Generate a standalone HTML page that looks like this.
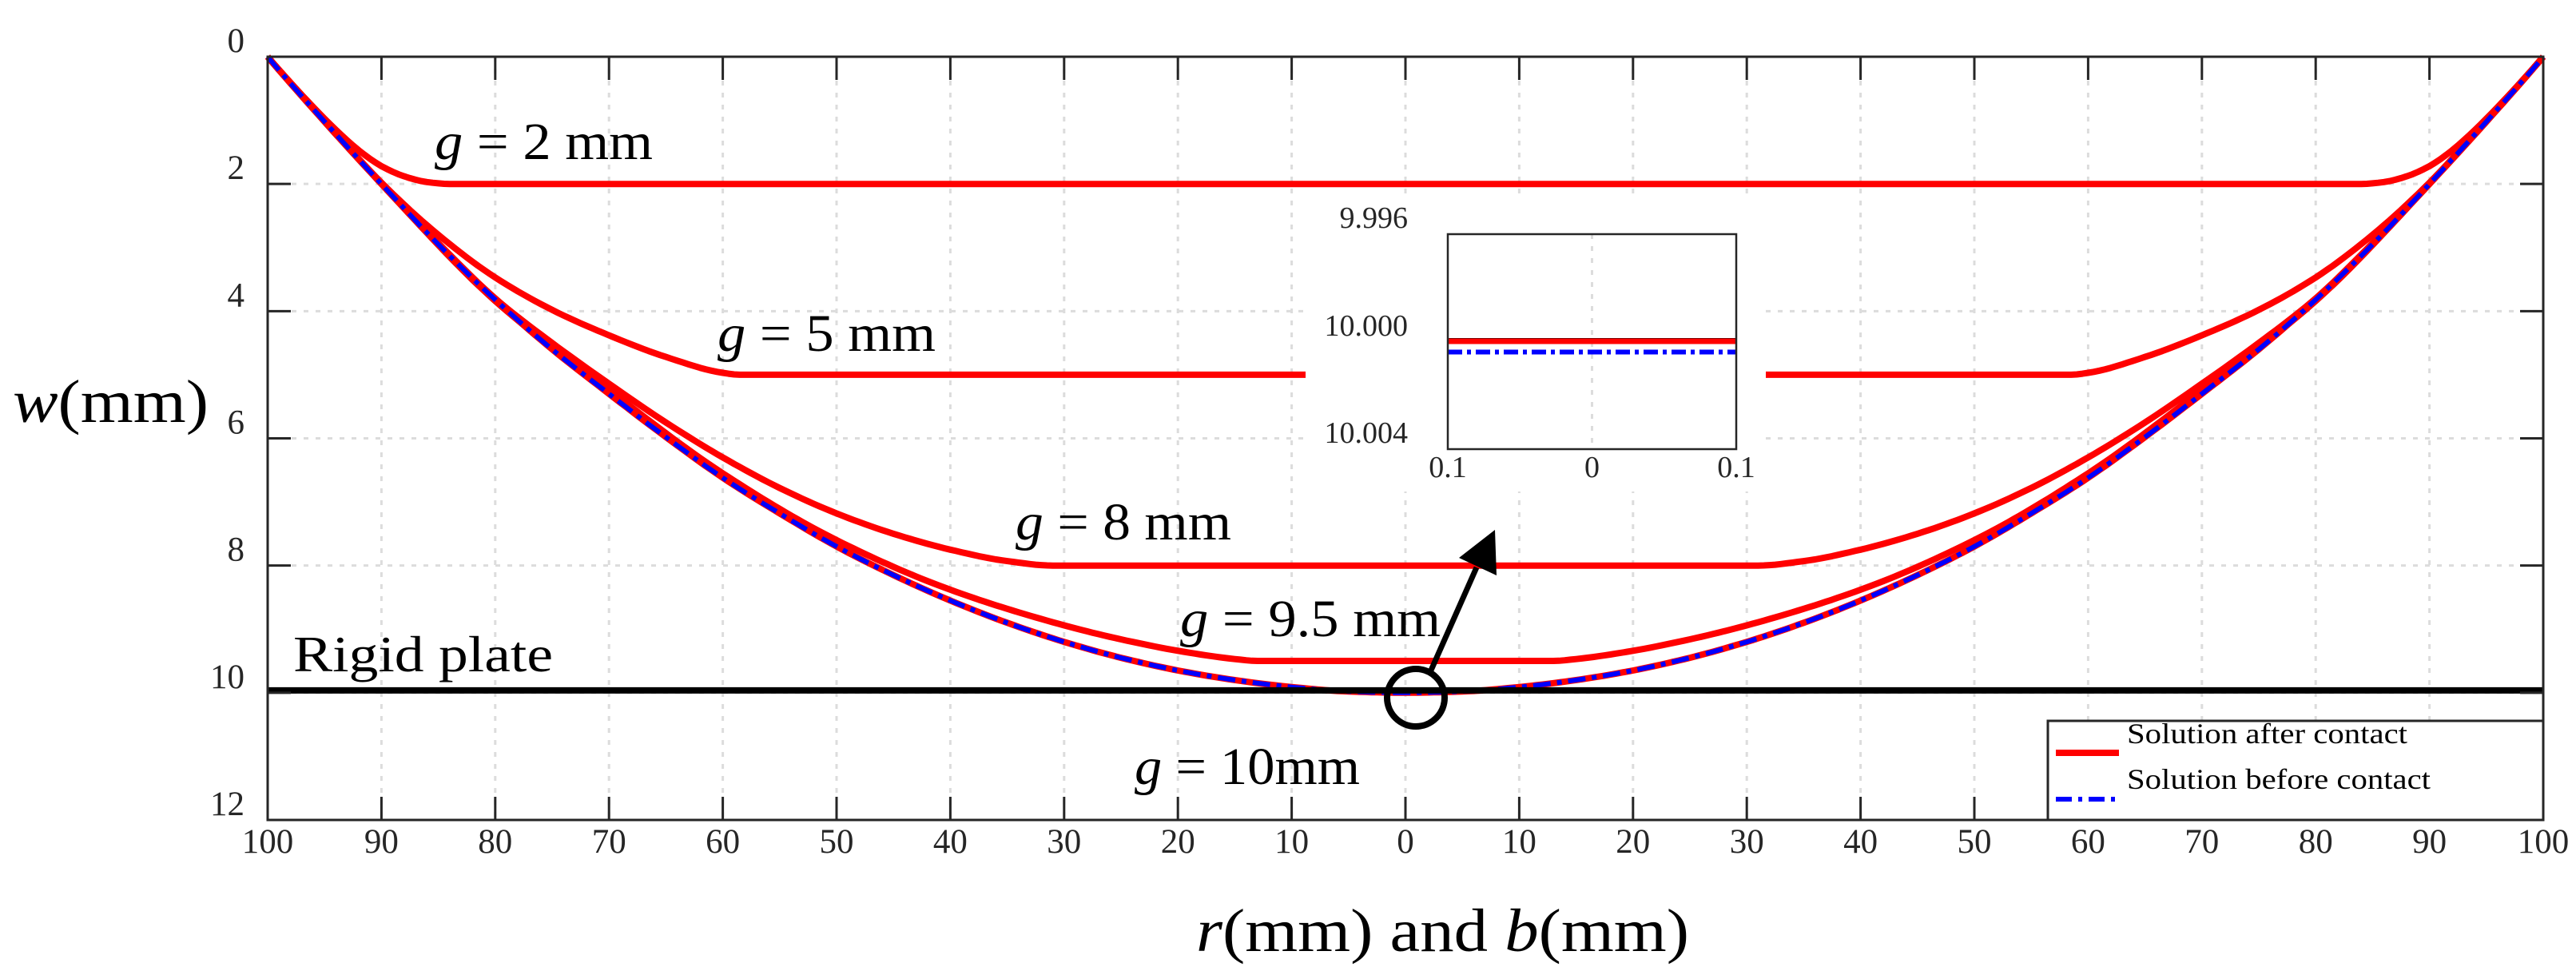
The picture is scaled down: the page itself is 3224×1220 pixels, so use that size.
<!DOCTYPE html>
<html><head><meta charset="utf-8">
<style>
html,body{margin:0;padding:0;background:#fff;}
svg{display:block;font-family:"Liberation Serif",serif;}
</style></head>
<body>
<svg id="chart" width="3224" height="1220" viewBox="0 0 3224 1220" xmlns="http://www.w3.org/2000/svg">
<rect x="0" y="0" width="3224" height="1220" fill="#fff"/>
<g id="grid"></g>
<g id="curves"></g>
<g id="axes"></g>
<g id="labels"></g>
<g id="inset"></g>
<g id="legend"></g>
</svg>
<script>
// ---- data ----
const xTicks = [-100,-90,-80,-70,-60,-50,-40,-30,-20,-10,0,10,20,30,40,50,60,70,80,90,100];
const xTickLabels = ["100","90","80","70","60","50","40","30","20","10","0","10","20","30","40","50","60","70","80","90","100"];
const yTicks = [0,2,4,6,8,10,12];
const yTickLabels = ["0","2","4","6","8","10","12"];
// half-profiles: radius (mm) from edge to contact radius, deflection w (mm)
const rBefore = [100,95,90,85,80,75,70,65,60,55,50,45,40,35,30,25,20,15,10,5,0];
const wBefore = [0,1.02,2.0,2.95,3.82,4.6,5.3,5.98,6.62,7.18,7.7,8.15,8.55,8.9,9.2,9.45,9.65,9.8,9.91,9.98,10.0];
const rG2 = [100,97,94,92,90,88,86,84];
const wG2 = [0,0.6,1.15,1.47,1.72,1.88,1.97,2.0];
const rG5 = [100,95,90,85,80,75,70,65,60,58.5];
const wG5 = [0,1.0,1.98,2.8,3.47,3.98,4.38,4.72,4.97,5.0];
const rG8 = [100,95,90,85,80,75,70,65,60,55,50,45,40,35,31];
const wG8 = [0,1.0,2.0,2.93,3.8,4.5,5.14,5.75,6.3,6.78,7.18,7.5,7.75,7.93,8.0];
const rG95 = [100,90,80,70,60,50,40,30,25,20,15,13];
const wG95 = [0,2.0,3.84,5.24,6.55,7.6,8.38,8.94,9.16,9.34,9.47,9.5];
const rG10 = [100,95,90,85,80,75,70,65,60,55,50,45,40,35,30,25,20,15,10,5,0];
const wG10 = [0,1.02,2.0,2.95,3.82,4.6,5.3,5.98,6.62,7.18,7.7,8.15,8.55,8.9,9.2,9.45,9.65,9.8,9.91,9.98,10.0];
const rigidPlate = [10];
const insetYLabels = ["9.996","10.000","10.004"];
const insetXLabels = ["0.1","0","0.1"];
const insetAfter = [10.0];
const insetBefore = [10.0004];

// ---- axes ----
const L=335,R=3183,T=71,B=1026;
const X = v => L + (v+100)/200*(R-L);
const Y = v => T + v/12*(B-T);
const NS="http://www.w3.org/2000/svg";
function mk(tag,attrs,parent){const e=document.createElementNS(NS,tag);for(const k in attrs)e.setAttribute(k,attrs[k]);parent.appendChild(e);return e;}
const grid=document.getElementById('grid'),curves=document.getElementById('curves'),axes=document.getElementById('axes'),labels=document.getElementById('labels'),inset=document.getElementById('inset'),legend=document.getElementById('legend');

xTicks.forEach((t,i)=>{
  const g=mk('line',{x1:X(t),x2:X(t),y1:T,y2:B,stroke:'#dcdcdc','stroke-width':3,'stroke-dasharray':'6 9'},grid);
  
  
  const a=mk('line',{x1:X(t),x2:X(t),y1:T,y2:T+29,stroke:'#262626','stroke-width':3},axes);
  
  
  const b=mk('line',{x1:X(t),x2:X(t),y1:B,y2:B-29,stroke:'#262626','stroke-width':3},axes);
  
  
  const tx=mk('text',{x:X(t),y:1067,'font-size':43,fill:'#262626','text-anchor':'middle'},axes);
  tx.textContent=xTickLabels[i];
  
  
});
yTicks.forEach((t,i)=>{
  const g=mk('line',{x1:L,x2:R,y1:Y(t),y2:Y(t),stroke:'#dcdcdc','stroke-width':3,'stroke-dasharray':'6 9'},grid);
  
  
  const a=mk('line',{x1:L,x2:L+29,y1:Y(t),y2:Y(t),stroke:'#262626','stroke-width':3},axes);
  
  
  const b=mk('line',{x1:R,x2:R-29,y1:Y(t),y2:Y(t),stroke:'#262626','stroke-width':3},axes);
  
  
  const tx=mk('text',{x:306,y:Y(t)-6,'font-size':43,fill:'#262626','text-anchor':'end'},axes);
  tx.textContent=yTickLabels[i];
  
  
});
const frame=mk('rect',{x:L,y:T,width:R-L,height:B-T,fill:'none',stroke:'#262626','stroke-width':3},axes);



// ---- curves (monotone cubic interpolation, zero slope at contact) ----
function pchip(xs,ys){
  const n=xs.length,h=[],d=[],m=new Array(n);
  for(let i=0;i<n-1;i++){h[i]=xs[i+1]-xs[i];d[i]=(ys[i+1]-ys[i])/h[i];}
  m[0]=d[0]*1.05;
  for(let i=1;i<n-1;i++){
    if(d[i-1]*d[i]<=0)m[i]=0;
    else{const w1=2*h[i]+h[i-1],w2=h[i]+2*h[i-1];m[i]=(w1+w2)/(w1/d[i-1]+w2/d[i]);}
  }
  m[n-1]=0;
  return x=>{
    let i=0;while(i<n-2&&x>xs[i+1])i++;
    const t=(x-xs[i])/h[i],t2=t*t,t3=t2*t;
    return (2*t3-3*t2+1)*ys[i]+(t3-2*t2+t)*h[i]*m[i]+(-2*t3+3*t2)*ys[i+1]+(t3-t2)*h[i]*m[i+1];
  };
}
function curvePath(rs,ws){
  const xs=rs.map(r=>-r);
  const f=pchip(xs,ws);
  const rc=rs[rs.length-1],wc=ws[ws.length-1];
  const left=[];
  for(let x=-100;x<-rc;x+=0.5)left.push([x,f(x)]);
  left.push([-rc,wc]);
  const right=left.slice().reverse().map(p=>[-p[0],p[1]]);
  const pts=left.concat(rc>0?right:right.slice(1));
  return pts.map((p,i)=>(i?'L':'M')+X(p[0]).toFixed(1)+','+Y(p[1]).toFixed(1)).join(' ');
}
const series=[['curve-g2',rG2,wG2],['curve-g5',rG5,wG5],['curve-g8',rG8,wG8],['curve-g9-5',rG95,wG95],['curve-g10',rG10,wG10]];
series.forEach(s=>{
  const p=mk('path',{d:curvePath(s[1],s[2]),fill:'none',stroke:'#ff0000','stroke-width':8,'stroke-linejoin':'round'},curves);
  
  
});
const bp=mk('path',{d:curvePath(rBefore,wBefore),fill:'none',stroke:'#0000ff','stroke-width':6,'stroke-dasharray':'22 8 6 8'},curves);


const rp=mk('line',{x1:L,x2:R,y1:Y(rigidPlate[0])-3,y2:Y(rigidPlate[0])-3,stroke:'#000','stroke-width':8},curves);



// ---- annotations ----
function gLabel(x,y,rest,len,name){
  const t=mk('text',{x:x,y:y,'font-size':66,fill:'#000',textLength:len,lengthAdjust:'spacingAndGlyphs'},labels);
  
  
  const a=mk('tspan',{'font-style':'italic'},t);a.textContent='g';
  const b=mk('tspan',{},t);b.textContent=rest;
}
gLabel(544,199,' = 2 mm',273,'label-g2');
gLabel(898,439,' = 5 mm',273,'label-g5');
gLabel(1271,675,' = 8 mm',270,'label-g8');
gLabel(1477,796,' = 9.5 mm',326,'label-g9-5');
gLabel(1420,981,' = 10mm',282,'label-g10');
const rl=mk('text',{x:367,y:840,'font-size':64,fill:'#000',textLength:325,lengthAdjust:'spacingAndGlyphs'},labels);
rl.textContent='Rigid plate';


const circ=mk('circle',{cx:1772,cy:873,r:36,fill:'none',stroke:'#000','stroke-width':8},labels);


const arr=mk('line',{x1:1790,y1:841,x2:1848,y2:710,stroke:'#000','stroke-width':7},labels);


const ah=mk('polygon',{points:'1871,663 1826,698 1873,720',fill:'#000'},labels);


const yl=mk('text',{x:16,y:528,'font-size':76,fill:'#000',textLength:245,lengthAdjust:'spacingAndGlyphs'},labels);


mk('tspan',{'font-style':'italic'},yl).textContent='w';
mk('tspan',{},yl).textContent='(mm)';
const xl=mk('text',{x:1497,y:1190,'font-size':76,fill:'#000',textLength:617,lengthAdjust:'spacingAndGlyphs'},labels);


mk('tspan',{'font-style':'italic'},xl).textContent='r';
mk('tspan',{},xl).textContent='(mm) and ';
mk('tspan',{'font-style':'italic'},xl).textContent='b';
mk('tspan',{},xl).textContent='(mm)';

// ---- inset ----
const IL=1812,IR=2173,IT=293,IB=562;
const IY = v => IT + (v-9.996)/0.008*(IB-IT);
const bg=mk('rect',{x:1634,y:250,width:576,height:365,fill:'#fff'},inset);


const ig=mk('line',{x1:(IL+IR)/2,x2:(IL+IR)/2,y1:IT,y2:IB,stroke:'#dcdcdc','stroke-width':3,'stroke-dasharray':'6 9'},inset);


const ibl=mk('line',{x1:IL,x2:IR,y1:424,y2:424,stroke:'#000','stroke-width':2},inset);


const ia=mk('line',{x1:IL,x2:IR,y1:IY(insetAfter[0])-0.5,y2:IY(insetAfter[0])-0.5,stroke:'#ff0000','stroke-width':7},inset);


const ib=mk('line',{x1:IL,x2:IR,y1:IY(insetBefore[0])-0.5,y2:IY(insetBefore[0])-0.5,stroke:'#0000ff','stroke-width':6,'stroke-dasharray':'18 6 5 6'},inset);


const ifr=mk('rect',{x:IL,y:IT,width:IR-IL,height:IB-IT,fill:'none',stroke:'#262626','stroke-width':2.5},inset);


const iyPos=[285,420,554];
insetYLabels.forEach((s,i)=>{
  const t=mk('text',{x:1762,y:iyPos[i],'font-size':38,fill:'#262626','text-anchor':'end'},inset);
  t.textContent=s;
  
  
});
const ixPos=[IL,(IL+IR)/2,IR];
insetXLabels.forEach((s,i)=>{
  const t=mk('text',{x:ixPos[i],y:597,'font-size':38,fill:'#262626','text-anchor':'middle'},inset);
  t.textContent=s;
  
  
});

// ---- legend ----
const lb=mk('rect',{x:2563,y:902,width:620,height:124,fill:'#fff',stroke:'#262626','stroke-width':3},legend);


const l1=mk('line',{x1:2573,x2:2652,y1:942,y2:942,stroke:'#ff0000','stroke-width':8},legend);


const l2=mk('line',{x1:2573,x2:2652,y1:1000,y2:1000,stroke:'#0000ff','stroke-width':6,'stroke-dasharray':'20 8 5 8'},legend);


const t1=mk('text',{x:2662,y:930,'font-size':36,fill:'#000',textLength:351,lengthAdjust:'spacingAndGlyphs'},legend);
t1.textContent='Solution after contact';


const t2=mk('text',{x:2662,y:987,'font-size':36,fill:'#000',textLength:380,lengthAdjust:'spacingAndGlyphs'},legend);
t2.textContent='Solution before contact';


</script>
</body></html>
